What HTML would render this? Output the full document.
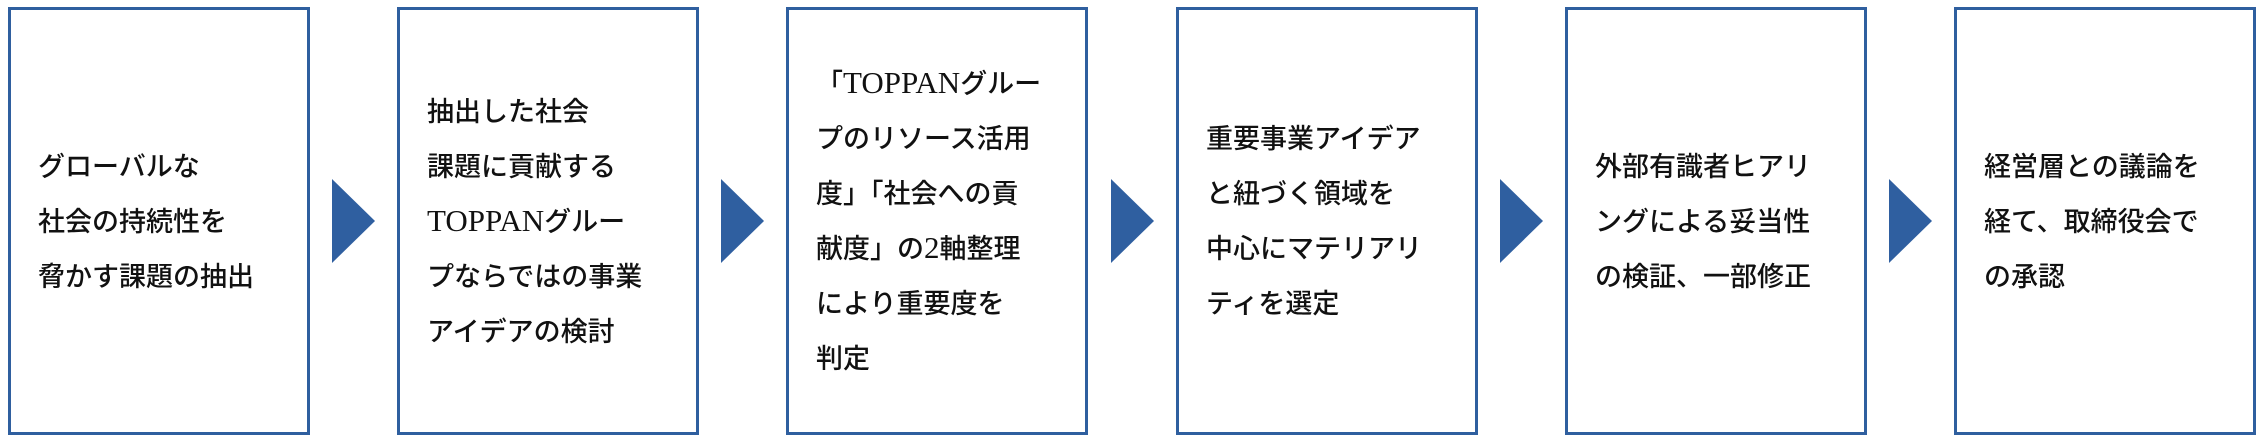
<!DOCTYPE html>
<html><head><meta charset="utf-8"><style>
html,body{margin:0;padding:0;background:#fff;width:2262px;height:442px;overflow:hidden;position:relative}
.b{position:absolute;top:7px;width:296px;height:422px;border:3px solid #2f5f9f;display:flex;align-items:center;box-sizing:content-box}
.t{padding-left:27px;font-family:"Liberation Serif","Noto Sans CJK JP",sans-serif;font-weight:500;font-size:27px;line-height:55px;color:#111;white-space:nowrap;margin-top:2px}
.l{font-size:31px;line-height:20px}
.a{position:absolute;top:179px;width:0;height:0;border-top:42px solid transparent;border-bottom:42px solid transparent;border-left:43px solid #2f5fa0}
</style></head><body>
<div class="b" style="left:8px"><div class="t">グローバルな<br>社会の持続性を<br>脅かす課題の抽出</div></div>
<div class="a" style="left:332px"></div>
<div class="b" style="left:397px"><div class="t">抽出した社会<br>課題に貢献する<br><span class="l">TOPPAN</span>グルー<br>プならではの事業<br>アイデアの検討</div></div>
<div class="a" style="left:721px"></div>
<div class="b" style="left:786px"><div class="t">「<span class="l">TOPPAN</span>グルー<br>プのリソース活用<br>度」「社会への貢<br>献度」の<span class="l">2</span>軸整理<br>により重要度を<br>判定</div></div>
<div class="a" style="left:1111px"></div>
<div class="b" style="left:1176px"><div class="t">重要事業アイデア<br>と紐づく領域を<br>中心にマテリアリ<br>ティを選定</div></div>
<div class="a" style="left:1500px"></div>
<div class="b" style="left:1565px"><div class="t">外部有識者ヒアリ<br>ングによる妥当性<br>の検証、一部修正</div></div>
<div class="a" style="left:1889px"></div>
<div class="b" style="left:1954px"><div class="t">経営層との議論を<br>経て、取締役会で<br>の承認</div></div>
</body></html>
